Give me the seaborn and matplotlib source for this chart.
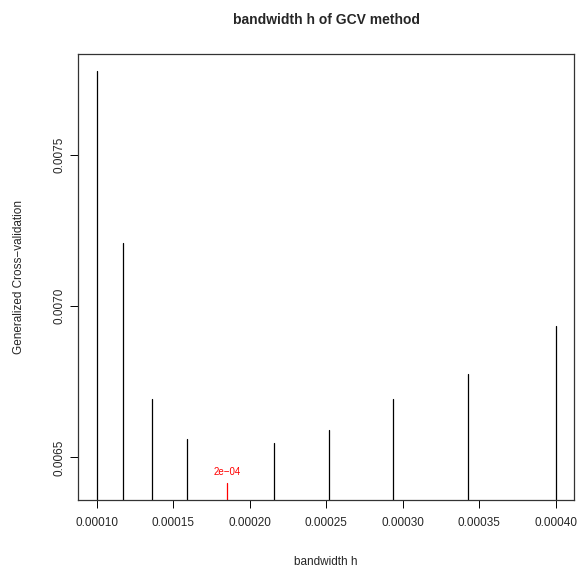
import matplotlib
matplotlib.use("Agg")
import matplotlib.pyplot as plt
import seaborn as sns
import numpy as np
import pandas as pd

# Data
bandwidth = [0.000100, 0.000117, 0.000136, 0.000159, 0.000185,
             0.000216, 0.000252, 0.000294, 0.000343, 0.000400]
gcv = [0.007778, 0.007207, 0.006693, 0.006561, 0.006414,
       0.006548, 0.006591, 0.006693, 0.006776, 0.006935]
x_ticks = [0.00010, 0.00015, 0.00020, 0.00025, 0.00030, 0.00035, 0.00040]
x_tick_labels = ["0.00010", "0.00015", "0.00020", "0.00025", "0.00030", "0.00035", "0.00040"]
y_ticks = [0.0065, 0.0070, 0.0075]
y_tick_labels = ["0.0065", "0.0070", "0.0075"]
best_label = "2e\u221204"

df = pd.DataFrame({"h": bandwidth, "gcv": gcv})
imin = int(np.argmin(gcv))
df["best"] = ["yes" if i == imin else "no" for i in range(len(df))]

sns.set_style("white")
plt.rcParams['font.family'] = ['Liberation Sans', 'DejaVu Sans']

fig = plt.figure(figsize=(5.85, 5.70), dpi=100)
ax = fig.add_axes([78.3 / 585, 1 - 500 / 570, (574 - 78.3) / 585, (500 - 54) / 570])

xr = max(bandwidth) - min(bandwidth)
yr = max(gcv) - min(gcv)
ax.set_xlim(min(bandwidth) - 0.04 * xr, max(bandwidth) + 0.04 * xr)
ax.set_ylim(min(gcv) - 0.04 * yr, max(gcv) + 0.04 * yr)

# type="h" style lines dropping to zero (clipped at plot region)
for (_, row) in df.iterrows():
    col = "#FF0000" if row["best"] == "yes" else "black"
    sns.lineplot(x=[row["h"], row["h"]], y=[0.0, row["gcv"]], ax=ax,
                 color=col, linewidth=0.9, estimator=None, sort=False)

ax.annotate(best_label, xy=(bandwidth[imin], gcv[imin]), xytext=(0, 4.5),
            textcoords="offset points", ha="center", va="bottom",
            color="#FF0000", fontsize=7)

ax.set_xticks(x_ticks)
ax.set_xticklabels(x_tick_labels, fontsize=8.5)
ax.set_yticks(y_ticks)
ax.set_yticklabels(y_tick_labels, fontsize=8.5, rotation=90, va="center")
ax.tick_params(axis="both", direction="out", length=5.5, width=0.7,
               color="black", bottom=True, left=True)
ax.tick_params(axis="x", pad=7)
ax.tick_params(axis="y", pad=4)

for s in ax.spines.values():
    s.set_color("#333333")
    s.set_linewidth(0.9)

ax.set_xlabel("bandwidth h", fontsize=8.5, labelpad=19)
ax.set_ylabel("Generalized Cross\u2212validation", fontsize=8.5, labelpad=20)
ax.set_title("bandwidth h of GCV method", fontsize=10, fontweight="bold", pad=21.5)

fig.savefig("out.png", dpi=100)
